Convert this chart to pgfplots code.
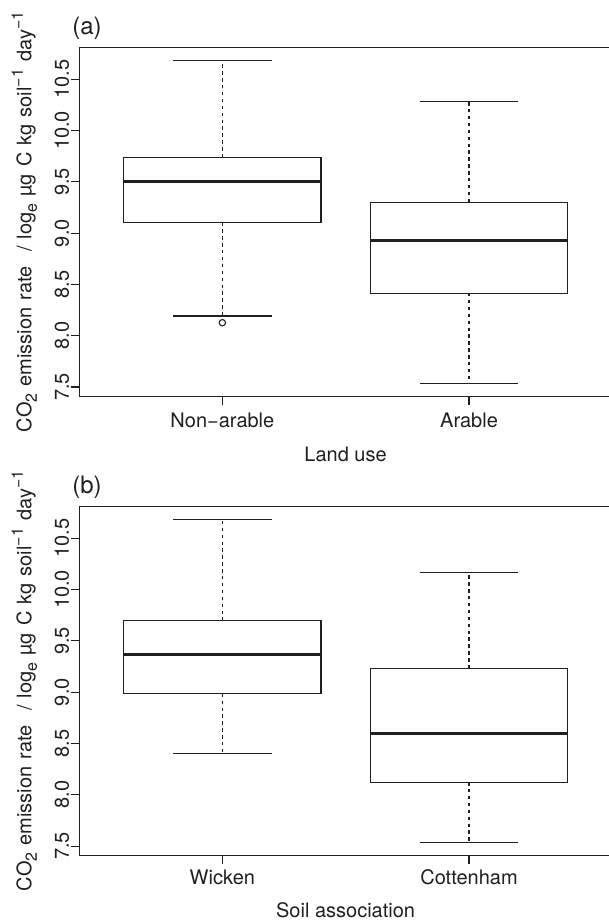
\documentclass[border=0pt]{standalone}
\usepackage{fontspec}
\setmainfont{TeX Gyre Heros}
\usepackage{pgfplots}
\usepackage{pgfplotstable}
\pgfplotsset{compat=1.18}
\usepgfplotslibrary{statistics}

% five-number summaries (log_e scale): lower whisker, quartiles, median, upper whisker
\pgfplotstableread{
lw q1 med q3 uw
8.192 9.104 9.503 9.737 10.685
7.532 8.416 8.925 9.302 10.282
}\landuse
\pgfplotstableread{
lw q1 med q3 uw
8.399 8.984 9.364 9.695 10.685
7.532 8.123 8.594 9.231 10.162
}\soilassoc

\definecolor{ink}{gray}{0.12}
\newcommand{\lab}{\fontsize{10}{12}\selectfont}
\newcommand{\wsp}{\hspace{0.36em}}
\newcommand{\lo}[1]{\raisebox{-0.28em}{\fontsize{8}{9}\selectfont #1}}
\newcommand{\hi}[1]{\raisebox{0.42em}{\fontsize{8}{9}\selectfont #1}}

% \summarybox{table}{row}{position}: reads one row of a summary table
\newcommand{\summarybox}[3]{%
  \pgfplotstablegetelem{#2}{lw}\of#1\let\sLW\pgfplotsretval
  \pgfplotstablegetelem{#2}{q1}\of#1\let\sQA\pgfplotsretval
  \pgfplotstablegetelem{#2}{med}\of#1\let\sMD\pgfplotsretval
  \pgfplotstablegetelem{#2}{q3}\of#1\let\sQC\pgfplotsretval
  \pgfplotstablegetelem{#2}{uw}\of#1\let\sUW\pgfplotsretval
  \edef\sOpts{draw position=#3, lower whisker=\sLW, lower quartile=\sQA,
    median=\sMD, upper quartile=\sQC, upper whisker=\sUW}%
}

\pgfplotsset{
  rpanel/.style={
    scale only axis, width=264.85pt, height=174.7pt,
    xmin=0.42, xmax=2.5675, ymin=7.406, ymax=10.811,
    clip=false,
    axis x line*=bottom, axis y line*=left,
    axis line style={ink, line width=0.55pt},
    tick style={ink, line width=0.55pt},
    tick align=outside, major tick length=4.35pt,
    xtick={1,2},
    ytick={7.5,8.0,8.5,9.0,9.5,10.0,10.5},
    yticklabel style={/pgf/number format/fixed, /pgf/number format/fixed zerofill,
      /pgf/number format/precision=1, /pgf/number format/assume math mode=true,
      rotate=90, anchor=base, inner sep=0pt, font=\lab, text=ink},
    yticklabel shift=0.9pt,
    xticklabel style={anchor=base, inner sep=0pt, font=\lab, text=ink},
    xticklabel shift=10.85pt,
    every axis x label/.style={at={([yshift=-32.2pt]axis description cs:0.5027,0)},
      anchor=base, inner sep=0pt, font=\lab, text=ink},
    every axis y label/.style={at={([xshift=-24pt]axis description cs:0,0.5)},
      rotate=90, anchor=base, inner sep=0pt, font=\lab, text=ink},
    ylabel={CO\lo{2}\wsp emission\wsp rate\wsp\wsp/\wsp log\lo{e}\wsp µg\wsp C\wsp kg\wsp soil\hi{−1}\wsp day\hi{−1}},
    boxplot/draw direction=y,
    boxplot/box extend=0.8,
    boxplot/whisker extend=0.4,
    boxplot/every box/.style={draw=ink, line width=0.55pt},
    boxplot/every median/.style={draw=ink, line width=1.65pt},
    boxplot/draw/lower whisker/.code={%
      \draw[ink, line width=0.55pt, dash pattern=on 1.7pt off 1.75pt]
        (boxplot cs:\pgfplotsboxplotvalue{lower quartile}) --
        (boxplot cs:\pgfplotsboxplotvalue{lower whisker});
      \draw[ink, line width=0.55pt]
        (boxplot whisker cs:\pgfplotsboxplotvalue{lower whisker},0) --
        (boxplot whisker cs:\pgfplotsboxplotvalue{lower whisker},1);
    },
    boxplot/draw/upper whisker/.code={%
      \draw[ink, line width=0.55pt, dash pattern=on 1.7pt off 1.75pt]
        (boxplot cs:\pgfplotsboxplotvalue{upper quartile}) --
        (boxplot cs:\pgfplotsboxplotvalue{upper whisker});
      \draw[ink, line width=0.55pt]
        (boxplot whisker cs:\pgfplotsboxplotvalue{upper whisker},0) --
        (boxplot whisker cs:\pgfplotsboxplotvalue{upper whisker},1);
    },
  },
}

\begin{document}
\begin{tikzpicture}
\useasboundingbox (0pt,0pt) rectangle (304.5pt,460.5pt);

% (a) land use
\begin{axis}[rpanel, at={(39.65pt,262.15pt)}, anchor=south west,
  xticklabels={Non−arable, Arable}, xlabel={Land use}]
  \summarybox{\landuse}{0}{1}
  \edef\doplot{\noexpand\addplot[ink, boxplot prepared={\sOpts},
    mark=o, mark size=1.6pt, mark options={solid, line width=0.55pt}]
    coordinates {(1,8.127)};}\doplot
  \summarybox{\landuse}{1}{2}
  \edef\doplot{\noexpand\addplot[ink, boxplot prepared={\sOpts}] coordinates {};}\doplot
  \draw[ink, line width=0.55pt] (rel axis cs:0,1) -- (rel axis cs:1,1);
\end{axis}
\node[anchor=base west, inner sep=0pt, font=\fontsize{12}{14}\selectfont, text=ink]
  at (36pt,443pt) {(a)};

% (b) soil association
\begin{axis}[rpanel, at={(39.65pt,32.65pt)}, anchor=south west,
  xticklabels={Wicken, Cottenham}, xlabel={Soil association},
  xticklabel shift=10.1pt,
  every axis x label/.append style={at={([yshift=-31pt]axis description cs:0.5027,0)}}]
  \summarybox{\soilassoc}{0}{1}
  \edef\doplot{\noexpand\addplot[ink, boxplot prepared={\sOpts}] coordinates {};}\doplot
  \summarybox{\soilassoc}{1}{2}
  \edef\doplot{\noexpand\addplot[ink, boxplot prepared={\sOpts}] coordinates {};}\doplot
  \draw[ink, line width=0.55pt] (rel axis cs:0,1) -- (rel axis cs:1,1);
\end{axis}
\node[anchor=base west, inner sep=0pt, font=\fontsize{12}{14}\selectfont, text=ink]
  at (36pt,213.65pt) {(b)};
\end{tikzpicture}
\end{document}
